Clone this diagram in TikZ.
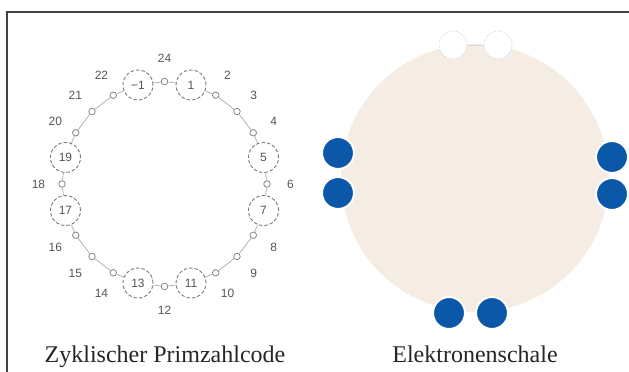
\documentclass[tikz,border=0pt]{standalone}
\usepackage{fontspec}
\setmainfont{Liberation Serif}
\newfontfamily\labfont{Liberation Sans}
\definecolor{beige}{HTML}{F5EDE3}
\definecolor{eblue}{HTML}{0B57A8}
\definecolor{lgray}{HTML}{7A7A7A}
\definecolor{tgray}{HTML}{555555}
\begin{document}
\begin{tikzpicture}[x=1pt,y=-1pt,
  bigc/.style={circle, draw=lgray, dash pattern=on 3.5pt off 2pt, line width=0.9pt,
    minimum size=30pt, inner sep=0pt, font=\labfont\fontsize{12}{12}\selectfont, text=tgray},
  smallc/.style={circle, draw=lgray, line width=0.7pt, fill=white, minimum size=6.5pt, inner sep=0pt},
  numlab/.style={font=\labfont\fontsize{12}{12}\selectfont, text=tgray, inner sep=0pt},
  link/.style={draw=lgray!70, line width=0.6pt},
  edot/.style={circle, fill=eblue, draw=white, line width=2pt, minimum size=32pt, inner sep=0pt},
  wdot/.style={circle, fill=white, draw=gray!35, dash pattern=on 1.5pt off 1.5pt, line width=0.6pt, minimum size=28pt, inner sep=0pt},
  caption/.style={font=\fontsize{24}{24}\selectfont, text=black!85, anchor=base, inner sep=0pt}]
\useasboundingbox (0,0) rectangle (629,372);
\fill[white] (0,0) rectangle (629,372);
% frame
\draw[line width=2pt, black!75] (7,372) -- (7,11.5) -- (629,11.5);

% ---- cyclic prime code ----
\begin{scope}[shift={(164.5,184)}]
  \foreach \k in {1,...,24}{
    \pgfmathtruncatemacro{\ang}{15*\k-90}
    \ifnum\k=1 \node[bigc] (p\k) at (\ang:102.5) {1};
    \else\ifnum\k=5 \node[bigc] (p\k) at (\ang:102.5) {5};
    \else\ifnum\k=7 \node[bigc] (p\k) at (\ang:102.5) {7};
    \else\ifnum\k=11 \node[bigc] (p\k) at (\ang:102.5) {11};
    \else\ifnum\k=13 \node[bigc] (p\k) at (\ang:102.5) {13};
    \else\ifnum\k=17 \node[bigc] (p\k) at (\ang:102.5) {17};
    \else\ifnum\k=19 \node[bigc] (p\k) at (\ang:102.5) {19};
    \else\ifnum\k=23 \node[bigc] (p\k) at (\ang:102.5) {\char"2212 1};
    \else
      \node[smallc] (p\k) at (\ang:102.5) {};
      \node[numlab] (l\k) at (\ang:126) {\k};
    \fi\fi\fi\fi\fi\fi\fi\fi
  }
  \foreach \k in {1,...,24}{
    \pgfmathtruncatemacro{\nx}{mod(\k,24)+1}
    \draw[link] (p\k) -- (p\nx);
  }
\end{scope}
\node[caption] (cap1) at (165,362) {Zyklischer Primzahlcode};

% ---- electron shell ----
\fill[beige] (475,178) circle (134);
\node[wdot] (w1) at (453,45) {};
\node[wdot] (w2) at (498,45) {};
\draw[gray!30, line width=0.6pt] (w1) -- (w2);
\node[edot] (e1) at (338,153) {};
\node[edot] (e2) at (338,193) {};
\node[edot] (e3) at (612,157) {};
\node[edot] (e4) at (612,194) {};
\node[edot] (e5) at (449,313) {};
\node[edot] (e6) at (492,313) {};
\node[caption] (cap2) at (475,362) {Elektronenschale};
\end{tikzpicture}
\end{document}
